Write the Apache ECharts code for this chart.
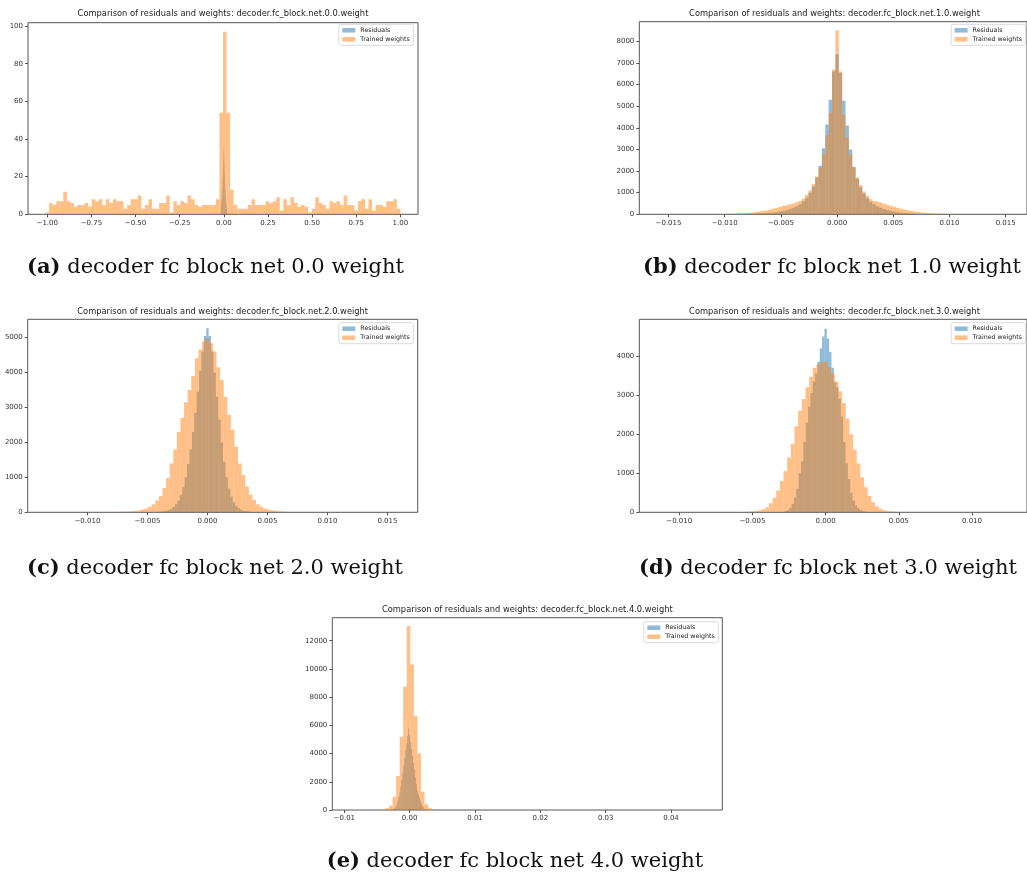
<!DOCTYPE html>
<html><head><meta charset="utf-8">
<script src="https://cdn.jsdelivr.net/npm/echarts@6/dist/echarts.min.js"></script>
<style>html,body{margin:0;padding:0;background:#fff}#c{width:1027px;height:878px}</style>
</head><body><div id="c"></div>
<script>
// ---------------- data ----------------
const seriesNames = ['Residuals', 'Trained weights'];
const panelTitles = [
  'Comparison of residuals and weights: decoder.fc_block.net.0.0.weight',
  'Comparison of residuals and weights: decoder.fc_block.net.1.0.weight',
  'Comparison of residuals and weights: decoder.fc_block.net.2.0.weight',
  'Comparison of residuals and weights: decoder.fc_block.net.3.0.weight',
  'Comparison of residuals and weights: decoder.fc_block.net.4.0.weight'
];
const captionTags = ['(a)', '(b)', '(c)', '(d)', '(e)'];
const captionTexts = [
  'decoder fc block net 0.0 weight',
  'decoder fc block net 1.0 weight',
  'decoder fc block net 2.0 weight',
  'decoder fc block net 3.0 weight',
  'decoder fc block net 4.0 weight'
];

// panel (a)
const a_res_start = -0.0185, a_res_width = 0.001;
const a_res_counts = [2,3,4,5,6,7,8,9,10,12,14,16,18,21,24,27,30,34,38,34,30,27,24,21,18,16,14,12,10,9,8,7,6,5,4,3,2];
const a_tw_start = -1.0095, a_tw_width = 0.0201;
const a_tw_counts = [1,6,5,7,7,12,7,6,4,5, 5,6,4,8,7,8,5,8,6,8, 7,7,3,5,8,8,10,3,5,8, 3,3,6,6,10,1,7,5,7,6, 10,8,5,4,5,5,5,5,8,
  54,97,54,13,
  5,3,3,3,5,8,5,5,5,7, 6,7,9,2,8,5,9,6,4,5, 4,1,3,9,6,5,3,7,6,7, 5,10,5,5,2,7,8,3,8,2, 5,5,4,7,7,8,3];
const a_x_ticks = [-1, -0.75, -0.5, -0.25, 0, 0.25, 0.5, 0.75, 1];
const a_y_ticks = [0, 20, 40, 60, 80, 100];

// panel (b)
const b_res_start = -0.01215, b_res_width = 0.0003;
const b_res_counts = [1,1,2,2,3,3,4,5,6,7, 9,11,14,17,21,26,32,39,48,58, 70,85,100,125,155,190,240,300,370,470,
  600,770,1000,1300,1700,2250,3050,4150,5300,6600, 7400,
  6550,5250,4100,3000,2200,1650,1250,960,750,580, 460,370,300,240,195,155,120,95,75,60,
  48,38,30,24,19,15,12,9,7,5, 4,3,3,2,2,1,1,1,1,0];
const b_tw_start = -0.01215, b_tw_width = 0.0003;
const b_tw_counts = [2,3,4,6,8,11,14,18,22,27, 33,40,48,58,70,85,102,125,150,180, 215,255,295,335,380,420,460,500,560,610,
  720,900,1100,1400,1750,2150,2800,3650,4700,6700, 8500,
  6600,4600,3550,2750,2150,1700,1350,1050,850,700, 620,590,540,490,440,400,350,300,260,220,
  185,155,130,105,88,72,60,50,41,34, 28,23,19,15,12,9,7,5,4,3];
const b_x_ticks = [-0.015, -0.010, -0.005, 0, 0.005, 0.010, 0.015];
const b_y_ticks = [0, 1000, 2000, 3000, 4000, 5000, 6000, 7000, 8000];

// panel (c)
const c_res_start = -0.0041, c_res_width = 0.0002;
const c_res_counts = [15,20,30,45,65,100,150,230,340,500,720,1000,1380,1800,2300,2850,3450,4050,4600,5050,
  5270, 5050,4600,4000,3300,2650,2000,1450,1000,680,450,290,190,120,75,45,30,20,12];
const c_tw_start = -0.00765, c_tw_width = 0.0003;
const c_tw_counts = [10,14,18,25,32,40,55,80,110,160, 230,340,470,690,980,1400,1800,2300,2700,3150,
  3500,3900,4410,4650,4890, 4980,
  4840,4600,4150,3790,3310,2790,2360,1880,1400,1070, 735,500,350,230,160,110,80,60,42,30, 22,16,12,8,6];
const c_x_ticks = [-0.010, -0.005, 0, 0.005, 0.010, 0.015];
const c_y_ticks = [0, 1000, 2000, 3000, 4000, 5000];

// panel (d)
const d_res_start = -0.0028, d_res_width = 0.00016;
const d_res_counts = [35,60,120,220,380,600,1000,1300,1800,2300, 2700,3050,3350,3550,3850,4200,4500,
  4700,
  4450,4100,3700,3330,3200,2900,2450,1800,1250,850, 500,300,180,110,60,35,20];
const d_tw_start = -0.005625, d_tw_width = 0.00025;
const d_tw_counts = [9,14,22,35,50,80,130,230,370,560,800,1050,1400,1750,2200,2600,2900,3200,3470,3700,3780,3840,
  3855,
  3720,3550,3350,3100,2800,2400,2000,1600,1250,900,640,420,260,150,90,55,35,22,14,8];
const d_x_ticks = [-0.010, -0.005, 0, 0.005, 0.010];
const d_y_ticks = [0, 1000, 2000, 3000, 4000];

// panel (e)
const e_res_start = -0.002775, e_res_width = 0.00015;
const e_res_counts = [20,40,80,150,250,390,670,955,1220,1665,2150,2640,3150,3680,4210,4740,5270,5800,
  5300,4810,4315,3820,3330,2850,2300,1830,1370,1100,880,660,440,300,190,110,60,30,15];
const e_tw_start = -0.00913, e_tw_width = 0.000543;
const e_tw_counts = [0,0,0,0,0,0,0,0,0,
  50,120,300,945,2410,5200,8740,13040,10320,6660,4015,1300,400,120,24,
  0,0,0,0,0,0,0,0,0,0, 0,0,0,0,0,0,0,0,0,0, 0,0,0,0,0,0,0,0,0,0, 0,0,0,0,0,0,0,0,0,0,
  0,0,0,0,0,0,0,0,0,0, 0,0,0,0,0,0,0,
  20, 0,0,0,0,0,0,0,0];
const e_x_ticks = [-0.01, 0, 0.01, 0.02, 0.03, 0.04];
const e_y_ticks = [0, 2000, 4000, 6000, 8000, 10000, 12000];

// ---------------- layout / style ----------------
const BLUE = 'rgba(31,119,180,0.5)';
const ORANGE = 'rgba(255,127,14,0.5)';
const panels = [
  {grid:{left:28, top:22.7, width:390, height:191.6}, x:[-1.109, 1.1], y:101.8, xt:a_x_ticks, yt:a_y_ticks, dec:2,
   res:[a_res_start,a_res_width,a_res_counts], tw:[a_tw_start,a_tw_width,a_tw_counts],
   title:[223, 14], legend:{right:613.7, top:24.3}, cap:[215.5, 268]},
  {grid:{left:639.3, top:21.7, width:390.7, height:192.6}, x:[-0.0176, 0.0169], y:8905, xt:b_x_ticks, yt:b_y_ticks, dec:3,
   res:[b_res_start,b_res_width,b_res_counts], tw:[b_tw_start,b_tw_width,b_tw_counts],
   title:[834.5, 14], legend:{right:1.4, top:24.3}, cap:[832, 268]},
  {grid:{left:27.7, top:319.3, width:390, height:193}, x:[-0.01498, 0.01752], y:5525, xt:c_x_ticks, yt:c_y_ticks, dec:3,
   res:[c_res_start,c_res_width,c_res_counts], tw:[c_tw_start,c_tw_width,c_tw_counts],
   title:[222.7, 312.3], legend:{right:613.7, top:322.7}, cap:[215, 569]},
  {grid:{left:639.3, top:319.3, width:390.7, height:193}, x:[-0.01273, 0.01376], y:4939, xt:d_x_ticks, yt:d_y_ticks, dec:3,
   res:[d_res_start,d_res_width,d_res_counts], tw:[d_tw_start,d_tw_width,d_tw_counts],
   title:[834.5, 312.3], legend:{right:1.4, top:322.7}, cap:[828, 569]},
  {grid:{left:332.3, top:617.7, width:390, height:192.3}, x:[-0.01184, 0.04785], y:13630, xt:e_x_ticks, yt:e_y_ticks, dec:2,
   res:[e_res_start,e_res_width,e_res_counts], tw:[e_tw_start,e_tw_width,e_tw_counts],
   title:[527.3, 609.7], legend:{right:308.7, top:621.7}, cap:[515, 862]}
];

function fmt(v, dec) {
  const s = Math.abs(v).toFixed(dec);
  return (v < -1e-12 ? '\u2212' : '') + s;
}
function binData(start, width, counts) {
  const out = [];
  counts.forEach((c, i) => { if (c > 0) out.push([start + i * width, start + (i + 1) * width, c]); });
  return out;
}
function makeRender(color) {
  return function (params, api) {
    const p0 = api.coord([api.value(0), api.value(2)]);
    const p1 = api.coord([api.value(1), 0]);
    return {type:'rect', shape:{x:p0[0], y:p0[1], width:p1[0]-p0[0], height:p1[1]-p0[1]},
            style:{fill:color}};
  };
}

const option = {animation:false, backgroundColor:'#fff', grid:[], xAxis:[], yAxis:[], series:[], legend:[], title:[]};
const tickFont = {fontSize:7, color:'#333', fontFamily:'DejaVu Sans'};
panels.forEach((p, i) => {
  option.grid.push(Object.assign({show:true, borderColor:'#555', borderWidth:1, backgroundColor:'transparent'}, p.grid));
  option.xAxis.push({gridIndex:i, type:'value', min:p.x[0], max:p.x[1], position:'bottom',
    axisLine:{show:false, onZero:false}, splitLine:{show:false},
    axisTick:{show:true, length:3, customValues:p.xt, lineStyle:{color:'#555', width:1}},
    axisLabel:Object.assign({customValues:p.xt, margin:5, formatter:v => fmt(v, p.dec)}, tickFont)});
  option.yAxis.push({gridIndex:i, type:'value', min:0, max:p.y, position:'left',
    axisLine:{show:false, onZero:false}, splitLine:{show:false},
    axisTick:{show:true, length:3, customValues:p.yt, lineStyle:{color:'#555', width:1}},
    axisLabel:Object.assign({customValues:p.yt, margin:5, formatter:v => String(v)}, tickFont)});
  option.series.push({type:'custom', name:seriesNames[0], xAxisIndex:i, yAxisIndex:i, clip:true,
    itemStyle:{color:BLUE}, encode:{x:[0,1], y:2}, renderItem:makeRender(BLUE), data:binData(p.res[0], p.res[1], p.res[2])});
  option.series.push({type:'custom', name:seriesNames[1], xAxisIndex:i, yAxisIndex:i, clip:true,
    itemStyle:{color:ORANGE}, encode:{x:[0,1], y:2}, renderItem:makeRender(ORANGE), data:binData(p.tw[0], p.tw[1], p.tw[2])});
  option.legend.push({orient:'vertical', right:p.legend.right, top:p.legend.top, selectedMode:false,
    data:[{name:seriesNames[0], itemStyle:{color:BLUE}}, {name:seriesNames[1], itemStyle:{color:ORANGE}}],
    icon:'rect', itemWidth:13, itemHeight:4.5, itemGap:3, padding:[3,3.5,3,3.5],
    backgroundColor:'rgba(255,255,255,0.8)', borderColor:'#d0d0d0', borderWidth:0.8, borderRadius:2,
    textStyle:{fontSize:6.3, color:'#222', fontFamily:'DejaVu Sans'}});
  option.title.push({text:panelTitles[i], left:p.title[0], top:p.title[1], textAlign:'center', textVerticalAlign:'middle', padding:0,
    textStyle:{fontSize:8.3, fontWeight:'normal', color:'#222', fontFamily:'DejaVu Sans'}});
  option.title.push({text:'{b|' + captionTags[i] + '} ' + captionTexts[i], left:p.cap[0], top:p.cap[1],
    textAlign:'center', textVerticalAlign:'middle', padding:0,
    textStyle:{fontSize:21, fontWeight:'normal', color:'#111', fontFamily:'DejaVu Serif',
      rich:{b:{fontSize:21, fontWeight:'bold', color:'#111', fontFamily:'DejaVu Serif'}}}});
});

const chart = echarts.init(document.getElementById('c'), null, {renderer:'canvas'});
chart.setOption(option);
</script></body></html>
